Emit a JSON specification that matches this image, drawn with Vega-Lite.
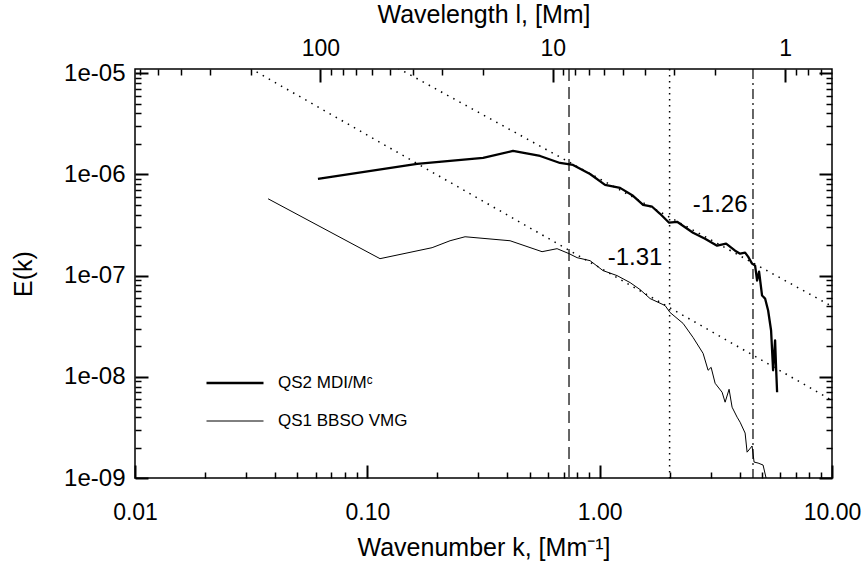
{
  "$schema": "https://vega.github.io/schema/vega-lite/v6.json",
  "width": 697,
  "height": 409,
  "autosize": "none",
  "padding": {"left": 135, "top": 69, "right": 35, "bottom": 94},
  "background": "white",
  "config": {
    "view": {"stroke": "#000", "strokeWidth": 1.5},
    "font": "Liberation Sans",
    "axis": {"domain": false, "grid": false, "labelColor": "#000", "titleColor": "#000", "labelFont": "Liberation Sans", "titleFont": "Liberation Sans", "titleFontWeight": "normal", "labelFlush": false, "labelOverlap": false},
    "legend": {"labelFont": "Liberation Sans", "labelColor": "#000"}
  },
  "resolve": {"axis": {"x": "independent", "y": "independent"}},
  "layer": [
    {
      "data": {"values": [
        {"series": "QS2 MDI/Mᶜ", "k": 0.0613, "E": 9.03e-7},
        {"series": "QS2 MDI/Mᶜ", "k": 0.1637, "E": 1.269e-6},
        {"series": "QS2 MDI/Mᶜ", "k": 0.227, "E": 1.358e-6},
        {"series": "QS2 MDI/Mᶜ", "k": 0.315, "E": 1.455e-6},
        {"series": "QS2 MDI/Mᶜ", "k": 0.4236, "E": 1.704e-6},
        {"series": "QS2 MDI/Mᶜ", "k": 0.554, "E": 1.52e-6},
        {"series": "QS2 MDI/Mᶜ", "k": 0.675, "E": 1.297e-6},
        {"series": "QS2 MDI/Mᶜ", "k": 0.768, "E": 1.24e-6},
        {"series": "QS2 MDI/Mᶜ", "k": 0.909, "E": 1.01e-6},
        {"series": "QS2 MDI/Mᶜ", "k": 1.055, "E": 7.88e-7},
        {"series": "QS2 MDI/Mᶜ", "k": 1.224, "E": 7.36e-7},
        {"series": "QS2 MDI/Mᶜ", "k": 1.392, "E": 6.14e-7},
        {"series": "QS2 MDI/Mᶜ", "k": 1.538, "E": 5.01e-7},
        {"series": "QS2 MDI/Mᶜ", "k": 1.682, "E": 4.79e-7},
        {"series": "QS2 MDI/Mᶜ", "k": 1.82, "E": 4.08e-7},
        {"series": "QS2 MDI/Mᶜ", "k": 1.99, "E": 3.33e-7},
        {"series": "QS2 MDI/Mᶜ", "k": 2.154, "E": 3.4e-7},
        {"series": "QS2 MDI/Mᶜ", "k": 2.523, "E": 2.65e-7},
        {"series": "QS2 MDI/Mᶜ", "k": 2.842, "E": 2.31e-7},
        {"series": "QS2 MDI/Mᶜ", "k": 3.202, "E": 1.975e-7},
        {"series": "QS2 MDI/Mᶜ", "k": 3.501, "E": 2.07e-7},
        {"series": "QS2 MDI/Mᶜ", "k": 3.828, "E": 1.763e-7},
        {"series": "QS2 MDI/Mᶜ", "k": 4.022, "E": 1.647e-7},
        {"series": "QS2 MDI/Mᶜ", "k": 4.227, "E": 1.685e-7},
        {"series": "QS2 MDI/Mᶜ", "k": 4.354, "E": 1.539e-7},
        {"series": "QS2 MDI/Mᶜ", "k": 4.529, "E": 1.313e-7},
        {"series": "QS2 MDI/Mᶜ", "k": 4.667, "E": 1.254e-7},
        {"series": "QS2 MDI/Mᶜ", "k": 4.76, "E": 8.93e-8},
        {"series": "QS2 MDI/Mᶜ", "k": 4.855, "E": 1.095e-7},
        {"series": "QS2 MDI/Mᶜ", "k": 5.0, "E": 6.35e-8},
        {"series": "QS2 MDI/Mᶜ", "k": 5.152, "E": 5.93e-8},
        {"series": "QS2 MDI/Mᶜ", "k": 5.31, "E": 4.52e-8},
        {"series": "QS2 MDI/Mᶜ", "k": 5.468, "E": 2.87e-8},
        {"series": "QS2 MDI/Mᶜ", "k": 5.578, "E": 1.16e-8},
        {"series": "QS2 MDI/Mᶜ", "k": 5.689, "E": 2.29e-8},
        {"series": "QS2 MDI/Mᶜ", "k": 5.747, "E": 1.213e-8},
        {"series": "QS2 MDI/Mᶜ", "k": 5.804, "E": 7.04e-9},
        {"series": "QS1 BBSO VMG", "k": 0.0374, "E": 5.74e-7},
        {"series": "QS1 BBSO VMG", "k": 0.1134, "E": 1.47e-7},
        {"series": "QS1 BBSO VMG", "k": 0.19, "E": 1.887e-7},
        {"series": "QS1 BBSO VMG", "k": 0.227, "E": 2.21e-7},
        {"series": "QS1 BBSO VMG", "k": 0.2634, "E": 2.42e-7},
        {"series": "QS1 BBSO VMG", "k": 0.4114, "E": 2.21e-7},
        {"series": "QS1 BBSO VMG", "k": 0.565, "E": 1.723e-7},
        {"series": "QS1 BBSO VMG", "k": 0.6556, "E": 1.845e-7},
        {"series": "QS1 BBSO VMG", "k": 0.7385, "E": 1.647e-7},
        {"series": "QS1 BBSO VMG", "k": 0.7996, "E": 1.504e-7},
        {"series": "QS1 BBSO VMG", "k": 0.909, "E": 1.405e-7},
        {"series": "QS1 BBSO VMG", "k": 1.034, "E": 1.12e-7},
        {"series": "QS1 BBSO VMG", "k": 1.188, "E": 1.0e-7},
        {"series": "QS1 BBSO VMG", "k": 1.352, "E": 8.53e-8},
        {"series": "QS1 BBSO VMG", "k": 1.492, "E": 7.28e-8},
        {"series": "QS1 BBSO VMG", "k": 1.648, "E": 5.93e-8},
        {"series": "QS1 BBSO VMG", "k": 1.912, "E": 5.06e-8},
        {"series": "QS1 BBSO VMG", "k": 2.009, "E": 4.32e-8},
        {"series": "QS1 BBSO VMG", "k": 2.286, "E": 3.37e-8},
        {"series": "QS1 BBSO VMG", "k": 2.523, "E": 2.45e-8},
        {"series": "QS1 BBSO VMG", "k": 2.787, "E": 1.704e-8},
        {"series": "QS1 BBSO VMG", "k": 2.929, "E": 1.16e-8},
        {"series": "QS1 BBSO VMG", "k": 3.018, "E": 1.24e-8},
        {"series": "QS1 BBSO VMG", "k": 3.14, "E": 8.63e-9},
        {"series": "QS1 BBSO VMG", "k": 3.365, "E": 7.04e-9},
        {"series": "QS1 BBSO VMG", "k": 3.467, "E": 5.61e-9},
        {"series": "QS1 BBSO VMG", "k": 3.606, "E": 7.53e-9},
        {"series": "QS1 BBSO VMG", "k": 3.715, "E": 5.01e-9},
        {"series": "QS1 BBSO VMG", "k": 3.905, "E": 3.99e-9},
        {"series": "QS1 BBSO VMG", "k": 4.022, "E": 3.56e-9},
        {"series": "QS1 BBSO VMG", "k": 4.227, "E": 2.78e-9},
        {"series": "QS1 BBSO VMG", "k": 4.311, "E": 1.8e-9},
        {"series": "QS1 BBSO VMG", "k": 4.529, "E": 2.07e-9},
        {"series": "QS1 BBSO VMG", "k": 4.62, "E": 1.437e-9},
        {"series": "QS1 BBSO VMG", "k": 4.807, "E": 1.405e-9},
        {"series": "QS1 BBSO VMG", "k": 5.05, "E": 1.343e-9},
        {"series": "QS1 BBSO VMG", "k": 5.203, "E": 1.0e-9}
      ]},
      "mark": {"type": "line", "color": "#000", "clip": true, "strokeJoin": "round"},
      "encoding": {
        "x": {"field": "k", "type": "quantitative", "scale": {"type": "log", "domain": [0.01, 10], "nice": false},
          "axis": {"orient": "bottom", "values": [0.01, 0.1, 1, 10], "format": ".2f", "ticks": true, "tickSize": -13, "tickColor": "#000", "tickWidth": 2, "labelPadding": 36, "labelFontSize": 23, "title": "Wavenumber k, [Mm⁻¹]", "titleFontSize": 25, "titlePadding": 11}},
        "y": {"field": "E", "type": "quantitative", "scale": {"type": "log", "domain": [1e-9, 1.1e-5], "nice": false},
          "axis": {"orient": "left", "values": [1e-9, 1e-8, 1e-7, 1e-6, 1e-5], "labelExpr": "'1e-' + format(-round(log(datum.value)/LN10), '02d')", "ticks": true, "tickSize": -13, "tickColor": "#000", "tickWidth": 2, "labelPadding": 23, "labelFontSize": 24, "title": "E(k)", "titleFontSize": 25, "titlePadding": 27}},
        "strokeWidth": {"field": "series", "type": "nominal", "scale": {"domain": ["QS2 MDI/Mᶜ", "QS1 BBSO VMG"], "range": [2.3, 1.0]},
          "legend": {"orient": "none", "legendX": 70, "legendY": 284, "title": null, "symbolType": "stroke", "symbolSize": 3249, "symbolStrokeColor": "#000", "labelFontSize": 17, "labelOffset": 13, "rowPadding": 1}}
      }
    },
    {
      "data": {"values": [
        {"fit": "QS2", "k": 0.1, "E": 1.644e-5},
        {"fit": "QS2", "k": 10, "E": 4.97e-8},
        {"fit": "QS1", "k": 0.01, "E": 4.99e-5},
        {"fit": "QS1", "k": 10, "E": 5.86e-9}
      ]},
      "mark": {"type": "line", "color": "#000", "strokeWidth": 1.5, "strokeDash": [1.5, 5.5], "clip": true},
      "encoding": {
        "x": {"field": "k", "type": "quantitative", "scale": {"type": "log", "domain": [0.01, 10], "nice": false},
          "axis": {"orient": "top", "values": [0.0628319, 0.628319, 6.28319], "labelExpr": "format(2*PI/datum.value, '.0f')", "ticks": true, "tickSize": -13, "tickColor": "#000", "tickWidth": 2, "labelPadding": 22, "labelFontSize": 23, "title": "Wavelength l, [Mm]", "titleFontSize": 25, "titlePadding": 10}},
        "y": {"field": "E", "type": "quantitative", "scale": {"type": "log", "domain": [1e-9, 1.1e-5], "nice": false},
          "axis": {"orient": "right", "values": [1e-9, 1e-8, 1e-7, 1e-6, 1e-5], "ticks": true, "tickSize": -13, "tickColor": "#000", "tickWidth": 2, "labels": false, "title": null}},
        "detail": {"field": "fit", "type": "nominal"}
      }
    },
    {
      "data": {"values": [{"k": 0.738}]},
      "mark": {"type": "rule", "color": "#000", "strokeWidth": 1.2, "strokeDash": [12, 6]},
      "encoding": {"x": {"field": "k", "type": "quantitative", "scale": {"type": "log", "domain": [0.01, 10], "nice": false}, "axis": null}}
    },
    {
      "data": {"values": [{"k": 2.0}]},
      "mark": {"type": "rule", "color": "#000", "strokeWidth": 1.5, "strokeDash": [1.5, 4.5]},
      "encoding": {"x": {"field": "k", "type": "quantitative", "scale": {"type": "log", "domain": [0.01, 10], "nice": false}, "axis": null}}
    },
    {
      "data": {"values": [{"k": 4.57}]},
      "mark": {"type": "rule", "color": "#000", "strokeWidth": 1.2, "strokeDash": [10, 4, 2, 4]},
      "encoding": {"x": {"field": "k", "type": "quantitative", "scale": {"type": "log", "domain": [0.01, 10], "nice": false}, "axis": null}}
    },
    {
      "data": {"values": [{"label": "-1.26", "k": 3.3, "E": 5.0e-7}]},
      "mark": {"type": "text", "color": "#000", "fontSize": 24, "font": "Liberation Sans", "align": "center", "baseline": "middle"},
      "encoding": {
        "x": {"field": "k", "type": "quantitative", "scale": {"type": "log", "domain": [0.01, 10], "nice": false},
          "axis": {"orient": "bottom", "values": [0.02, 0.03, 0.04, 0.05, 0.06, 0.07, 0.08, 0.09, 0.2, 0.3, 0.4, 0.5, 0.6, 0.7, 0.8, 0.9, 2, 3, 4, 5, 6, 7, 8, 9], "ticks": true, "tickSize": -6, "tickColor": "#000", "tickWidth": 1.5, "labels": false, "title": null}},
        "y": {"field": "E", "type": "quantitative", "scale": {"type": "log", "domain": [1e-9, 1.1e-5], "nice": false},
          "axis": {"orient": "left", "values": [2e-9, 3e-9, 4e-9, 5e-9, 6e-9, 7e-9, 8e-9, 9e-9, 2e-8, 3e-8, 4e-8, 5e-8, 6e-8, 7e-8, 8e-8, 9e-8, 2e-7, 3e-7, 4e-7, 5e-7, 6e-7, 7e-7, 8e-7, 9e-7, 2e-6, 3e-6, 4e-6, 5e-6, 6e-6, 7e-6, 8e-6, 9e-6], "ticks": true, "tickSize": -6, "tickColor": "#000", "tickWidth": 1.5, "labels": false, "title": null}},
        "text": {"field": "label"}
      }
    },
    {
      "data": {"values": [{"label": "-1.31", "k": 1.42, "E": 1.5e-7}]},
      "mark": {"type": "text", "color": "#000", "fontSize": 24, "font": "Liberation Sans", "align": "center", "baseline": "middle"},
      "encoding": {
        "x": {"field": "k", "type": "quantitative", "scale": {"type": "log", "domain": [0.01, 10], "nice": false},
          "axis": {"orient": "top", "values": [0.010472, 0.0125664, 0.015708, 0.020944, 0.0314159, 0.0698132, 0.0785398, 0.0897598, 0.10472, 0.125664, 0.15708, 0.20944, 0.314159, 0.698132, 0.785398, 0.897598, 1.047198, 1.256637, 1.570796, 2.094395, 3.141593, 6.98132, 7.85398, 8.97598], "ticks": true, "tickSize": -6, "tickColor": "#000", "tickWidth": 1.5, "labels": false, "title": null}},
        "y": {"field": "E", "type": "quantitative", "scale": {"type": "log", "domain": [1e-9, 1.1e-5], "nice": false},
          "axis": {"orient": "right", "values": [2e-9, 3e-9, 4e-9, 5e-9, 6e-9, 7e-9, 8e-9, 9e-9, 2e-8, 3e-8, 4e-8, 5e-8, 6e-8, 7e-8, 8e-8, 9e-8, 2e-7, 3e-7, 4e-7, 5e-7, 6e-7, 7e-7, 8e-7, 9e-7, 2e-6, 3e-6, 4e-6, 5e-6, 6e-6, 7e-6, 8e-6, 9e-6], "ticks": true, "tickSize": -6, "tickColor": "#000", "tickWidth": 1.5, "labels": false, "title": null}},
        "text": {"field": "label"}
      }
    }
  ]
}
